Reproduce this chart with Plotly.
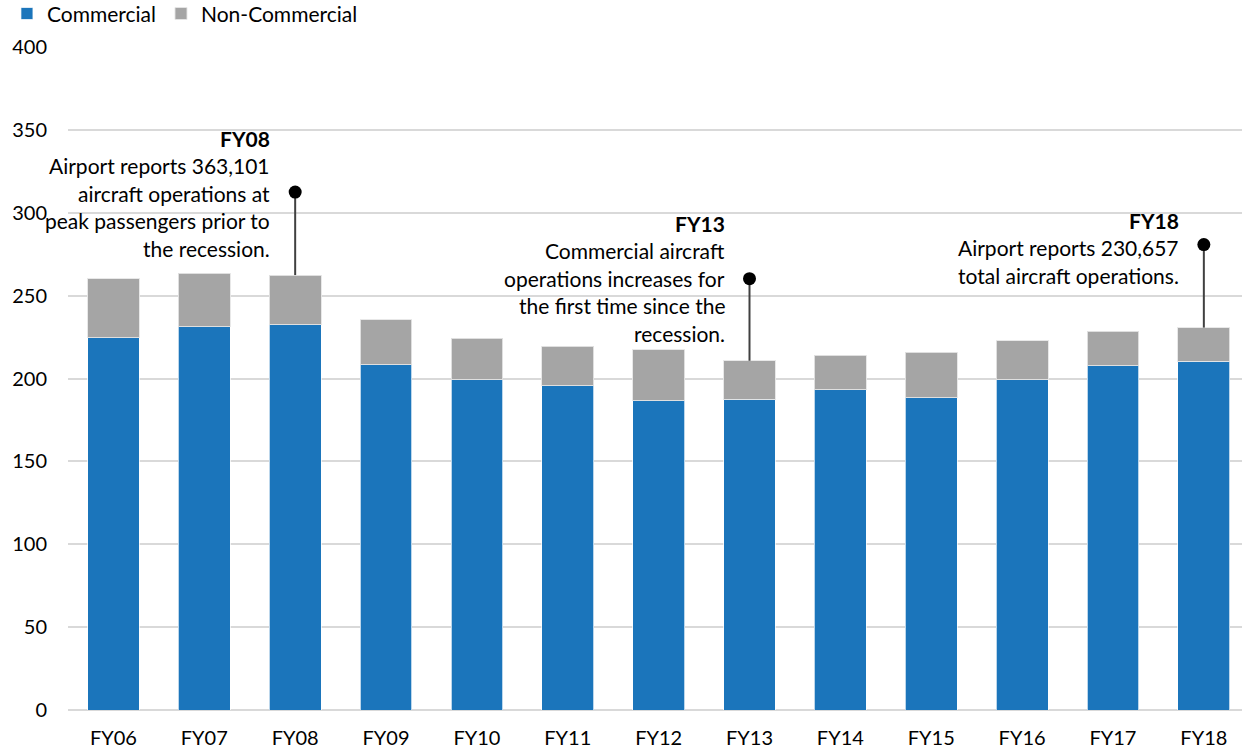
import plotly.graph_objects as go

categories = ["FY06", "FY07", "FY08", "FY09", "FY10", "FY11", "FY12",
              "FY13", "FY14", "FY15", "FY16", "FY17", "FY18"]
commercial = [224.6, 231.3, 232.5, 208.3, 199.3, 195.5, 186.5,
              187.4, 193.3, 188.4, 199.1, 207.7, 210.4]
non_commercial = [35.6, 32.1, 29.9, 27.0, 24.9, 24.1, 30.9,
                  23.3, 20.7, 27.4, 23.7, 20.8, 20.3]

callout_years = ["FY08", "FY13", "FY18"]
callout_dot_y = [312.5, 260.2, 280.8]
callout_title_y = [345.1, 293.6, 295.6]
callout_lines = [
    ["Airport reports 363,101", "aircraft operations at",
     "peak passengers prior to", "the recession."],
    ["Commercial aircraft", "operations increases for",
     "the first time since the", "recession."],
    ["Airport reports 230,657", "total aircraft operations."],
]
line_step = 16.6  # data units between text lines

FONT = "Lato, 'Open Sans', sans-serif"
BLUE = "#1B75BB"
GRAY = "#A5A5A5"

fig = go.Figure()
fig.add_trace(go.Bar(x=categories, y=commercial, name="Commercial",
                     marker=dict(color=BLUE, line=dict(color="rgba(255,255,255,0.7)", width=1))))
fig.add_trace(go.Bar(x=categories, y=non_commercial, name="Non-Commercial",
                     marker=dict(color=GRAY, line=dict(color="rgba(230,230,230,0.9)", width=1))))

totals = {c: a + b for c, a, b in zip(categories, commercial, non_commercial)}

annotations = []
for yr, dot_y, ty, lines in zip(callout_years, callout_dot_y, callout_title_y, callout_lines):
    fig.add_trace(go.Scatter(x=[yr, yr], y=[dot_y, totals[yr]], mode="lines",
                             line=dict(color="#404040", width=2),
                             showlegend=False, hoverinfo="skip"))
    fig.add_trace(go.Scatter(x=[yr], y=[dot_y], mode="markers",
                             marker=dict(color="black", size=13),
                             showlegend=False, hoverinfo="skip"))
    xs = -23
    annotations.append(dict(x=yr, y=ty, xref="x", yref="y", text="<b>" + yr + "</b>",
                            showarrow=False, xanchor="right", yanchor="middle", xshift=xs,
                            font=dict(family=FONT, size=21, color="black")))
    for i, t in enumerate(lines):
        annotations.append(dict(x=yr, y=ty - line_step * (i + 1), xref="x", yref="y", text=t,
                                showarrow=False, xanchor="right", yanchor="middle", xshift=xs,
                                font=dict(family=FONT, size=21, color="black")))

fig.update_layout(
    width=1242, height=750,
    barmode="stack", bargap=0.43,
    plot_bgcolor="white", paper_bgcolor="white",
    margin=dict(l=68, r=0, t=47, b=40, autoexpand=False),
    font=dict(family=FONT, size=20, color="black"),
    showlegend=True,
    legend=dict(orientation="h", x=-0.052, y=1.05, xanchor="left", yanchor="middle",
                font=dict(family=FONT, size=21, color="black"),
                itemwidth=30, traceorder="normal", bgcolor="rgba(0,0,0,0)",
                tracegroupgap=0, itemclick=False),
    annotations=annotations,
)
fig.update_xaxes(range=[-0.5, 12.42], showgrid=False, showline=False, zeroline=False,
                 ticks="", ticklabelstandoff=14,
                 tickfont=dict(family=FONT, size=20, color="black"))
fig.update_yaxes(range=[0, 400], dtick=50, showgrid=True, gridcolor="#D9D9D9", gridwidth=1.5,
                 zeroline=True, zerolinecolor="#D9D9D9", zerolinewidth=1.5,
                 showline=False, ticks="", ticklabelstandoff=20,
                 tickfont=dict(family=FONT, size=20, color="black"))

fig.write_html("out.html")
